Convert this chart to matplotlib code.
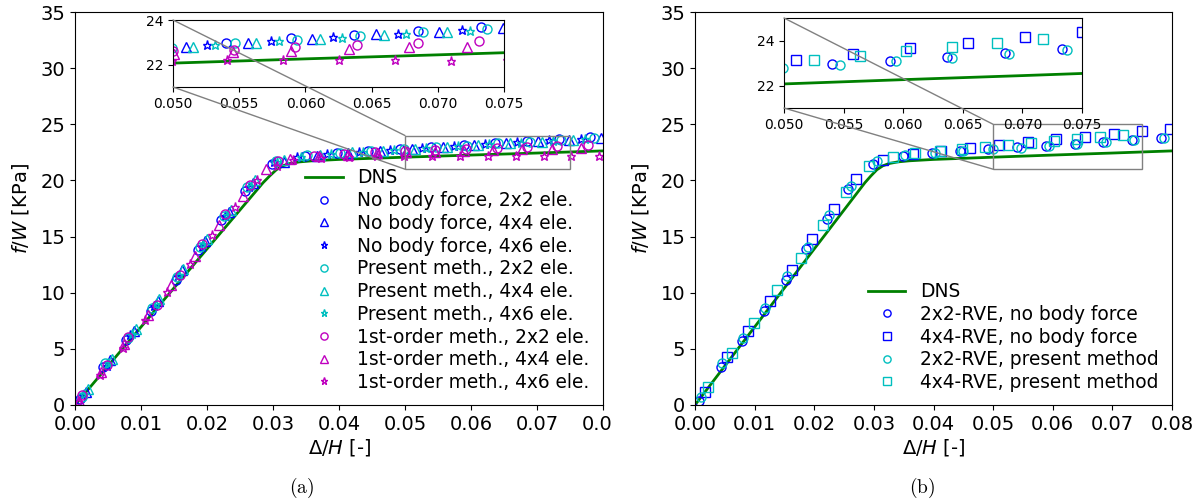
import matplotlib
matplotlib.use("Agg")
import matplotlib.pyplot as plt
from matplotlib.patches import Rectangle, ConnectionPatch
from matplotlib.transforms import Bbox, TransformedBbox

# DNS reference curve (same in both panels)
dns_x = [0.0, 0.0100, 0.0200, 0.0285, 0.0295, 0.0305, 0.0315, 0.0325, 0.0340,
         0.0360, 0.0400, 0.0500, 0.0600, 0.0700, 0.0800]
dns_y = [0.0, 6.95, 13.9, 19.8, 20.4, 20.95, 21.3, 21.5, 21.65,
         21.75, 21.87, 22.07, 22.26, 22.44, 22.63]

# (a) no body force
nbf_2x2_x = [0.0007, 0.0043, 0.0078, 0.0115, 0.0153, 0.0187, 0.0221, 0.0257, 0.0299, 0.0349,
             0.0397, 0.0444, 0.0492, 0.0540, 0.0589, 0.0637, 0.0685, 0.0733, 0.0781]
nbf_2x2_y = [0.5, 3.4, 5.8, 8.4, 11.1, 13.8, 16.5, 19.1, 21.5, 22.2,
             22.45, 22.65, 22.82, 22.99, 23.19, 23.35, 23.51, 23.67, 23.83]
nbf_4x4_x = [0.0017, 0.0053, 0.0089, 0.0126, 0.0162, 0.0197, 0.0233, 0.0270, 0.0316, 0.0366,
             0.0414, 0.0462, 0.0510, 0.0557, 0.0605, 0.0653, 0.0701, 0.0749, 0.0797]
nbf_4x4_y = [1.2, 4.0, 6.6, 9.3, 12.0, 14.6, 17.2, 19.8, 21.6, 22.2,
             22.45, 22.63, 22.81, 22.99, 23.16, 23.36, 23.48, 23.63, 23.8]
nbf_4x6_x = [0.0012, 0.0048, 0.0084, 0.0120, 0.0156, 0.0192, 0.0228, 0.0264, 0.0302, 0.0337,
             0.0382, 0.0430, 0.0478, 0.0526, 0.0574, 0.0621, 0.0670, 0.0718, 0.0766]
nbf_4x6_y = [0.9, 3.5, 6.2, 8.8, 11.5, 14.1, 16.8, 19.4, 21.6, 22.1,
             22.35, 22.55, 22.72, 22.89, 23.07, 23.23, 23.39, 23.56, 23.72]

# (a) present method
pm_2x2_x = [0.0010, 0.0046, 0.0081, 0.0117, 0.0155, 0.0190, 0.0225, 0.0261, 0.0305, 0.0352,
            0.0402, 0.0449, 0.0499, 0.0547, 0.0594, 0.0641, 0.0689, 0.0737, 0.0786]
pm_2x2_y = [0.7, 3.7, 6.0, 8.6, 11.4, 14.1, 16.8, 19.4, 21.7, 22.3,
            22.45, 22.62, 22.76, 22.96, 23.11, 23.29, 23.45, 23.61, 23.78]
pm_4x4_x = [0.0020, 0.0056, 0.0092, 0.0128, 0.0164, 0.0200, 0.0236, 0.0272, 0.0316, 0.0371,
            0.0419, 0.0467, 0.0515, 0.0563, 0.0611, 0.0659, 0.0707, 0.0755]
pm_4x4_y = [1.4, 4.1, 6.8, 9.4, 12.1, 14.8, 17.4, 20.0, 21.8, 22.3,
            22.5, 22.65, 22.79, 22.99, 23.16, 23.32, 23.45, 23.6]
pm_4x6_x = [0.0014, 0.0050, 0.0086, 0.0122, 0.0158, 0.0194, 0.0230, 0.0266, 0.0306, 0.0342,
            0.0388, 0.0436, 0.0484, 0.0532, 0.0580, 0.0628, 0.0676, 0.0724, 0.0772]
pm_4x6_y = [1.0, 3.7, 6.3, 9.0, 11.6, 14.3, 16.9, 19.5, 21.6, 22.1,
            22.35, 22.52, 22.7, 22.86, 23.04, 23.2, 23.36, 23.51, 23.66]

# (a) 1st-order method
fo_2x2_x = [0.0010, 0.0048, 0.0081, 0.0124, 0.0159, 0.0192, 0.0227, 0.0265, 0.0308, 0.0362,
            0.0408, 0.0454, 0.0500, 0.0546, 0.0592, 0.0639, 0.0685, 0.0731, 0.0777]
fo_2x2_y = [0.9, 3.6, 6.1, 8.9, 11.6, 14.3, 17.0, 19.6, 21.7, 22.15,
            22.35, 22.5, 22.6, 22.67, 22.77, 22.86, 22.95, 23.04, 23.12]
fo_4x4_x = [0.0006, 0.0040, 0.0074, 0.0110, 0.0146, 0.0182, 0.0218, 0.0254, 0.0290, 0.0325,
            0.0369, 0.0413, 0.0457, 0.0501, 0.0545, 0.0589, 0.0633, 0.0678, 0.0722, 0.0766]
fo_4x4_y = [0.4, 2.9, 5.4, 8.0, 10.7, 13.3, 16.0, 18.6, 21.0, 21.9,
            22.15, 22.3, 22.42, 22.5, 22.55, 22.62, 22.70, 22.77, 22.8, 22.87]
fo_4x6_x = [0.0004, 0.0038, 0.0072, 0.0106, 0.0140, 0.0174, 0.0208, 0.0242, 0.0276, 0.0306,
            0.0331, 0.0373, 0.0415, 0.0457, 0.0499, 0.0541, 0.0583, 0.0625, 0.0668, 0.0710,
            0.0752, 0.0794]
fo_4x6_y = [0.3, 2.7, 5.1, 7.6, 10.1, 12.6, 15.1, 17.6, 20.0, 21.3,
            21.8, 22.0, 22.1, 22.15, 22.18, 22.19, 22.2, 22.2, 22.19, 22.18,
            22.2, 22.2]

# (b) RVE comparison
rve2_nbf_x = nbf_2x2_x
rve2_nbf_y = [0.4, 3.4, 5.7, 8.4, 11.1, 13.9, 16.6, 19.2, 21.5, 22.2,
              22.45, 22.65, 22.8, 22.94, 23.1, 23.26, 23.44, 23.62, 23.8]
rve4_nbf_x = [0.0017, 0.0053, 0.0089, 0.0126, 0.0162, 0.0197, 0.0233, 0.0270, 0.0316, 0.0366,
              0.0412, 0.0461, 0.0510, 0.0558, 0.0606, 0.0654, 0.0702, 0.0750, 0.0797]
rve4_nbf_y = [1.2, 4.3, 6.6, 9.3, 12.0, 14.8, 17.5, 20.1, 21.8, 22.35,
              22.6, 22.88, 23.14, 23.41, 23.67, 23.9, 24.17, 24.4, 24.62]
rve2_pm_x = pm_2x2_x
rve2_pm_y = [0.7, 3.7, 6.0, 8.6, 11.5, 14.1, 16.9, 19.5, 21.7, 22.3,
             22.45, 22.62, 22.76, 22.91, 23.08, 23.23, 23.39, 23.56, 23.74]
rve4_pm_x = [0.0022, 0.0062, 0.0099, 0.0138, 0.0177, 0.0215, 0.0253, 0.0292, 0.0332, 0.0369,
             0.0411, 0.0447, 0.0486, 0.0525, 0.0564, 0.0602, 0.0641, 0.0679, 0.0717]
rve4_pm_y = [1.6, 4.6, 7.3, 10.2, 13.1, 16.0, 19.0, 21.3, 22.1, 22.4,
             22.62, 22.8, 22.97, 23.14, 23.33, 23.55, 23.71, 23.9, 24.08]

x_ticks = [0.00, 0.01, 0.02, 0.03, 0.04, 0.05, 0.06, 0.07, 0.08]
y_ticks = [0, 5, 10, 15, 20, 25, 30, 35]
inset_x_ticks = [0.050, 0.055, 0.060, 0.065, 0.070, 0.075]

series_a = [
    (nbf_2x2_x, nbf_2x2_y, "b", "o", "No body force, 2x2 ele."),
    (nbf_4x4_x, nbf_4x4_y, "b", "^", "No body force, 4x4 ele."),
    (nbf_4x6_x, nbf_4x6_y, "b", "*", "No body force, 4x6 ele."),
    (pm_2x2_x, pm_2x2_y, "c", "o", "Present meth., 2x2 ele."),
    (pm_4x4_x, pm_4x4_y, "c", "^", "Present meth., 4x4 ele."),
    (pm_4x6_x, pm_4x6_y, "c", "*", "Present meth., 4x6 ele."),
    (fo_2x2_x, fo_2x2_y, "m", "o", "1st-order meth., 2x2 ele."),
    (fo_4x4_x, fo_4x4_y, "m", "^", "1st-order meth., 4x4 ele."),
    (fo_4x6_x, fo_4x6_y, "m", "*", "1st-order meth., 4x6 ele."),
]
series_b = [
    (rve2_nbf_x, rve2_nbf_y, "b", "o", "2x2-RVE, no body force"),
    (rve4_nbf_x, rve4_nbf_y, "b", "s", "4x4-RVE, no body force"),
    (rve2_pm_x, rve2_pm_y, "c", "o", "2x2-RVE, present method"),
    (rve4_pm_x, rve4_pm_y, "c", "s", "4x4-RVE, present method"),
]

MS = 6.5


def draw(ax, series):
    ax.plot(dns_x, dns_y, color="g", lw=2, label="DNS")
    for x, y, c, m, lab in series:
        ax.plot(x, y, ls="none", marker=m, ms=MS, mfc="none", mec=c, mew=1.0, label=lab)


def inset(fig, ax, rect, series, ylim, yticks):
    ins = fig.add_axes(rect)
    draw(ins, series)
    ins.set_xlim(0.05, 0.075)
    ins.set_ylim(*ylim)
    ins.set_xticks(inset_x_ticks)
    ins.set_xticklabels([f"{v:.3f}" for v in inset_x_ticks])
    ins.set_yticks(yticks)
    ins.tick_params(labelsize=10)
    # zoom box on parent and connectors
    ax.add_patch(Rectangle((0.05, ylim[0]), 0.025, ylim[1] - ylim[0], fill=False,
                           ec="gray", lw=1, zorder=5))
    for yy in ylim[::-1]:
        fig.add_artist(ConnectionPatch(xyA=(0.05, yy), coordsA=ins.transData,
                                       xyB=(0.05, yy), coordsB=ax.transData,
                                       color="gray", lw=1))
    return ins


fig = plt.figure(figsize=(12.04, 5.01), dpi=100)
W, H = 1204.0, 501.0
ax1 = fig.add_axes([75 / W, 96 / H, 528 / W, 393 / H])
ax2 = fig.add_axes([695 / W, 96 / H, 477 / W, 393 / H])

for ax, series in ((ax1, series_a), (ax2, series_b)):
    draw(ax, series)
    ax.set_xlim(0, 0.08)
    ax.set_ylim(0, 35)
    ax.set_xticks(x_ticks)
    ax.set_xticklabels([f"{v:.2f}" for v in x_ticks])
    ax.set_yticks(y_ticks)
    ax.tick_params(labelsize=14)
    ax.set_xlabel(r"$\Delta/H$ [-]", fontsize=14, labelpad=2)
    ax.set_ylabel(r"$f/W$ [KPa]", fontsize=14, labelpad=7)

leg_kw = dict(frameon=False, fontsize=13.4, labelspacing=0.2, markerscale=0.8,
              borderaxespad=0.3, handletextpad=0.8)
ax1.legend(loc="lower right", **leg_kw)
ax2.legend(loc="lower right", **leg_kw)

inset(fig, ax1, [173 / W, 414 / H, 331 / W, 67 / H], series_a, (21, 24), [22, 24])
inset(fig, ax2, [784 / W, 393 / H, 298 / W, 90 / H], series_b, (21, 25), [22, 24])

# left panel tick label "0.08" is cut by the sub-figure edge
clip = TransformedBbox(Bbox([[0, 0], [613 / W, 1]]), fig.transFigure)
for lab in ax1.get_xticklabels():
    lab.set_clip_box(clip)
    lab.set_clip_on(True)

fig.text(302 / W, 1 - 488 / H, r"$\mathrm{(a)}$", ha="center", va="center",
         fontsize=14, math_fontfamily="cm")
fig.text(922 / W, 1 - 488 / H, r"$\mathrm{(b)}$", ha="center", va="center",
         fontsize=14, math_fontfamily="cm")

fig.savefig("out.png", dpi=100)
